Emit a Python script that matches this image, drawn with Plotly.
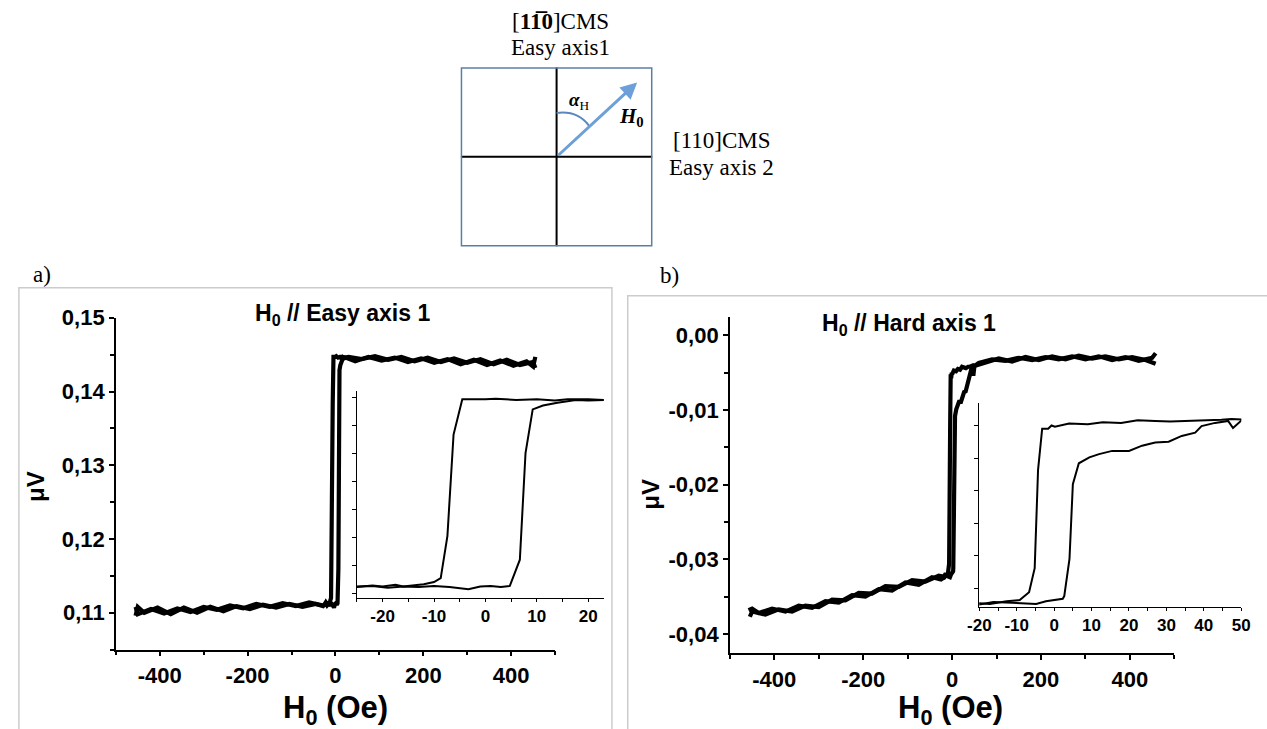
import plotly.graph_objects as go

W, H = 1267, 729

# ---------------- data ----------------
# panel a) H0 // Easy axis 1 : field (Oe) and signal (uV)
ea_down_h = [455, 450, 420, 390, 360, 330, 300, 270, 240, 210, 180, 150, 120, 90, 60, 30,
             23, 20, 16, 13.5, 10, 6, 2, 0, -2.5, -4.5,
             -6.2, -7.4, -8.7, -10, -12, -14, -16, -17.5, -20, -22, -25,
             -30, -60, -90, -120, -150, -180, -210, -240, -270, -300, -330, -360, -390, -420, -450, -455]
ea_down_v = [0.1432, 0.1440, 0.1436, 0.1443, 0.1437, 0.1444, 0.1439, 0.1445, 0.1440, 0.1446, 0.1441, 0.1447, 0.1443, 0.1448, 0.1444, 0.1447,
             0.1446, 0.1447, 0.1447, 0.1445, 0.1447, 0.1446, 0.1448, 0.1447, 0.1447, 0.1447,
             0.1384, 0.1202, 0.1127, 0.1120, 0.1116, 0.1114, 0.1112, 0.1115, 0.1112, 0.1114, 0.1111,
             0.1110, 0.1114, 0.1109, 0.1113, 0.1108, 0.1112, 0.1106, 0.1110, 0.1104, 0.1108, 0.1101, 0.1106, 0.1099, 0.1105, 0.1098, 0.1108]
ea_up_h = [-455, -450, -435, -405, -375, -345, -315, -285, -255, -225, -195, -165, -135, -105, -75, -45,
           -28, -25, -22, -19, -16, -13, -10, -7, -3.3, -1, 1, 3, 4.75,
           6.7, 7.8, 9.2, 11.2, 14, 17.6, 20, 23,
           45, 75, 105, 135, 165, 195, 225, 255, 285, 315, 345, 375, 405, 435, 450, 455]
ea_up_v = [0.1096, 0.1108, 0.1100, 0.1107, 0.1098, 0.1107, 0.1100, 0.1108, 0.1102, 0.1109, 0.1105, 0.1111, 0.1107, 0.1112, 0.1108, 0.1112,
           0.1109, 0.1112, 0.1113, 0.1110, 0.1112, 0.1111, 0.1113, 0.1111, 0.1107, 0.1112, 0.1113, 0.1111, 0.1113,
           0.1160, 0.1351, 0.1429, 0.1436, 0.1441, 0.1446, 0.1445, 0.1446,
           0.1441, 0.1447, 0.1442, 0.1446, 0.1440, 0.1445, 0.1439, 0.1444, 0.1437, 0.1443, 0.1436, 0.1442, 0.1435, 0.1441, 0.1434, 0.1447]

# panel b) H0 // Hard axis 1
ha_down_h = [458, 450, 420, 390, 360, 330, 300, 270, 240, 210, 180, 150, 120, 90, 60,
             50.3, 47.4, 44.7, 40, 35.9, 31, 27, 22.3, 17.9, 13, 9, 4, 0.2, -0.7, -1.6, -3.2,
             -4.3, -5.2, -6.7, -9.2, -12.7, -17.2, -20,
             -30, -60, -90, -120, -150, -180, -210, -240, -270, -300, -330, -360, -390, -420, -450, -455]
ha_down_v = [-0.0024, -0.0030, -0.0034, -0.0029, -0.0033, -0.0028, -0.0032, -0.0028, -0.0032, -0.0029, -0.0033, -0.0030, -0.0034, -0.0032, -0.0037,
             -0.0041, -0.0040, -0.0041, -0.0042, -0.0042, -0.0044, -0.0043, -0.0042, -0.0046, -0.0045, -0.0048, -0.0047, -0.0052, -0.0050, -0.0055, -0.0055,
             -0.0118, -0.0269, -0.0306, -0.0318, -0.0320, -0.0324, -0.0323,
             -0.0322, -0.0330, -0.0328, -0.0337, -0.0336, -0.0346, -0.0345, -0.0355, -0.0354, -0.0364, -0.0362, -0.0370, -0.0367, -0.0374, -0.0370, -0.0377]
ha_up_h = [-458, -450, -435, -405, -375, -345, -315, -285, -255, -225, -195, -165, -135, -105, -75, -45,
           -25, -20, -16.2, -10.1, -4.8, -2.2, 2.3, 2.7, 4.1, 5.0, 6.6,
           9.4, 12, 15.5, 20, 23.5, 27, 30.6, 34.1, 37.7, 39.4, 43, 46.5, 47.8, 50.3,
           75, 105, 135, 165, 195, 225, 255, 285, 315, 345, 375, 405, 435, 458]
ha_up_v = [-0.0368, -0.0366, -0.0372, -0.0366, -0.0370, -0.0362, -0.0365, -0.0356, -0.0358, -0.0348, -0.0350, -0.0340, -0.0342, -0.0331, -0.0334, -0.0324,
           -0.0327, -0.0325, -0.0321, -0.0322, -0.0324, -0.0320, -0.0316, -0.0312, -0.0255, -0.0140, -0.0108,
           -0.0099, -0.0094, -0.0089, -0.0089, -0.0081, -0.0076, -0.0075, -0.0066, -0.0061, -0.0051, -0.0046, -0.0043, -0.0054, -0.0041,
           -0.0036, -0.0031, -0.0035, -0.0029, -0.0033, -0.0028, -0.0032, -0.0027, -0.0031, -0.0028, -0.0032, -0.0029, -0.0033, -0.0038]

# tick labels
main_x_ticks = [-400, -200, 0, 200, 400]
main_x_text = ["-400", "-200", "0", "200", "400"]
ea_y_ticks = [0.11, 0.12, 0.13, 0.14, 0.15]
ea_y_text = ["0,11", "0,12", "0,13", "0,14", "0,15"]
ha_y_ticks = [-0.04, -0.03, -0.02, -0.01, 0.0]
ha_y_text = ["-0,04", "-0,03", "-0,02", "-0,01", "0,00"]
ea_in_x_ticks = [-20, -10, 0, 10, 20]
ea_in_x_text = ["-20", "-10", "0", "10", "20"]
ha_in_x_ticks = [-20, -10, 0, 10, 20, 30, 40, 50]
ha_in_x_text = ["-20", "-10", "0", "10", "20", "30", "40", "50"]
ea_in_y_ticks = [0.11, 0.115, 0.12, 0.125, 0.13, 0.135, 0.14, 0.145]
ha_in_y_ticks = [-0.03, -0.025, -0.02, -0.015, -0.01, -0.005]

# ---------------- helpers (target pixel -> paper fraction, with page-offset compensation) ----------------
def fx(p):
    return ((p - 3) / 0.995) / W

def fy(p):
    return 1 - ((p - 7) / 0.981) / H

SANS = "Arial, Liberation Sans, sans-serif"
SERIF = "Liberation Serif, Times New Roman, serif"


def axis_style(**kw):
    d = dict(showline=True, linecolor="black", linewidth=1.5, ticks="outside",
             ticklen=5, tickwidth=1.5, tickcolor="black", showgrid=False,
             zeroline=False, mirror=False, fixedrange=True,
             tickfont=dict(family=SANS, size=22, color="black", weight="bold"))
    d.update(kw)
    return d


fig = go.Figure()

line_main = dict(color="black", width=4.2)
line_in = dict(color="black", width=2)

for xs, ys in [(ea_down_h, ea_down_v), (ea_up_h, ea_up_v)]:
    fig.add_trace(go.Scatter(x=xs, y=ys, mode="lines", line=line_main,
                             xaxis="x", yaxis="y", showlegend=False, hoverinfo="skip"))
    fig.add_trace(go.Scatter(x=xs, y=ys, mode="lines", line=line_in,
                             xaxis="x2", yaxis="y2", showlegend=False, hoverinfo="skip"))
for xs, ys in [(ha_down_h, ha_down_v), (ha_up_h, ha_up_v)]:
    fig.add_trace(go.Scatter(x=xs, y=ys, mode="lines", line=line_main,
                             xaxis="x3", yaxis="y3", showlegend=False, hoverinfo="skip"))
    fig.add_trace(go.Scatter(x=xs, y=ys, mode="lines", line=line_in,
                             xaxis="x4", yaxis="y4", showlegend=False, hoverinfo="skip"))

minor_main_x = dict(dtick=100, tick0=0, ticks="outside", ticklen=4, tickwidth=1.5, tickcolor="black")
minor_main_y = dict(dtick=0.005, tick0=0, ticks="outside", ticklen=4, tickwidth=1.5, tickcolor="black")
minor_in_x = dict(dtick=5, tick0=0, ticks="outside", ticklen=3, tickwidth=1, tickcolor="black")
in_font = dict(family=SANS, size=17, color="black", weight="bold")

fig.update_layout(
    width=W, height=H, margin=dict(l=0, r=0, t=0, b=0),
    paper_bgcolor="white", plot_bgcolor="rgba(0,0,0,0)",
    # panel a main
    xaxis=axis_style(domain=[fx(108), fx(552.5)], range=[-500, 500], anchor="y",
                     tickmode="array", tickvals=main_x_ticks, ticktext=main_x_text,
                     minor=minor_main_x),
    yaxis=axis_style(domain=[fy(643), fy(312)], range=[0.105, 0.15], anchor="x",
                     tickmode="array", tickvals=ea_y_ticks, ticktext=ea_y_text,
                     minor=minor_main_y),
    # panel a inset
    xaxis2=axis_style(domain=[fx(352), fx(601.6)], range=[-25, 23], anchor="y2",
                      tickmode="array", tickvals=ea_in_x_ticks, ticktext=ea_in_x_text,
                      linewidth=1, tickwidth=1, ticklen=3, tickfont=in_font, minor=minor_in_x),
    yaxis2=axis_style(domain=[fy(591), fy(385)], range=[0.10923, 0.1462], anchor="x2",
                      tickmode="array", tickvals=ea_in_y_ticks, showticklabels=False,
                      linewidth=1, tickwidth=1, ticklen=4),
    # panel b main
    xaxis3=axis_style(domain=[fx(729.3), fx(1179)], range=[-500, 500], anchor="y3",
                      tickmode="array", tickvals=main_x_ticks, ticktext=main_x_text,
                      minor=minor_main_x),
    yaxis3=axis_style(domain=[fy(646.7), fy(311.7)], range=[-0.0426, 0.0024], anchor="x3",
                      tickmode="array", tickvals=ha_y_ticks, ticktext=ha_y_text,
                      minor=minor_main_y),
    # panel b inset
    xaxis4=axis_style(domain=[fx(981.7), fx(1246.7)], range=[-20, 50], anchor="y4",
                      tickmode="array", tickvals=ha_in_x_ticks, ticktext=ha_in_x_text,
                      linewidth=1, tickwidth=1, ticklen=3, tickfont=in_font, minor=minor_in_x),
    yaxis4=axis_style(domain=[fy(600), fy(396.7)], range=[-0.0328, -0.0015], anchor="x4",
                      tickmode="array", tickvals=ha_in_y_ticks, showticklabels=False,
                      linewidth=1, tickwidth=1, ticklen=4),
    # schematic
    xaxis5=dict(domain=[fx(457), fx(651)], range=[-1, 1], visible=False, anchor="y5", fixedrange=True),
    yaxis5=dict(domain=[fy(241), fy(62)], range=[-1, 1], visible=False, anchor="x5", fixedrange=True),
)

BOX = "#5c7ea3"
ARROW = "#6d9fd8"
shapes = [
    # panel frames
    dict(type="rect", xref="paper", yref="paper", x0=fx(10), x1=fx(610), y0=-0.05, y1=fy(282),
         line=dict(color="#cccccc", width=1.5), layer="below"),
    dict(type="rect", xref="paper", yref="paper", x0=fx(626), x1=1.05, y0=-0.05, y1=fy(290),
         line=dict(color="#cccccc", width=1.5), layer="below"),
    # schematic square and axes
    dict(type="line", xref="x5", yref="y5", x0=0, x1=0, y0=-1, y1=1, line=dict(color="black", width=2)),
    dict(type="line", xref="x5", yref="y5", x0=-1, x1=1, y0=0, y1=0, line=dict(color="black", width=2)),
    dict(type="rect", xref="x5", yref="y5", x0=-1, x1=1, y0=-1, y1=1, line=dict(color=BOX, width=3)),
    dict(type="path", xref="x5", yref="y5", path="M 0,0.49 Q 0.22,0.52 0.34,0.345",
         line=dict(color="#5b86c0", width=2)),
]
fig.update_layout(shapes=shapes)

ann = []

def text(x, y, s, size, family=SANS, bold=False, angle=0, xanchor="center"):
    ann.append(dict(x=fx(x), y=fy(y), xref="paper", yref="paper", text=s, showarrow=False,
                    font=dict(family=family, size=size, color="black", weight="bold" if bold else "normal"),
                    textangle=angle, xanchor=xanchor, yanchor="middle"))

# panel labels
text(33, 269, "a)", 23, SERIF)
text(668, 270, "b)", 23, SERIF)
# titles
text(337, 309, "H<sub>0</sub> // Easy axis 1", 23, SANS, True)
text(911, 319, "H<sub>0</sub> // Hard axis 1", 23, SANS, True)
# axis titles
text(330, 703, "H<sub>0</sub> (Oe)", 31, SANS, True)
text(953, 703, "H<sub>0</sub> (Oe)", 31, SANS, True)
text(27, 480, "μV", 24, SANS, True, angle=-90)
text(649, 488, "μV", 24, SANS, True, angle=-90)
# schematic labels
text(558, 16, "[<b>11\u03050</b>]CMS", 23, SERIF)
text(558, 42, "Easy axis1", 23, SERIF)
text(721, 135, "[110]CMS", 23, SERIF)
text(721, 162, "Easy axis 2", 23, SERIF)
text(577, 96, "<b><i>α</i></b><sub>H</sub>", 19, SERIF)
text(630, 112, "<b><i>H</i></b><b><sub>0</sub></b>", 21, SERIF)

# field arrow in the schematic
ann.append(dict(x=0.84, y=0.83, xref="x5", yref="y5", ax=0, ay=0, axref="x5", ayref="y5",
                text="", showarrow=True, arrowhead=2, arrowsize=1.1, arrowwidth=3,
                arrowcolor=ARROW, standoff=0, startstandoff=0))

fig.update_layout(annotations=ann)

fig.write_html("out.html", config={"displayModeBar": False},
               post_script="document.body.style.margin='0';document.body.style.overflow='hidden';")
